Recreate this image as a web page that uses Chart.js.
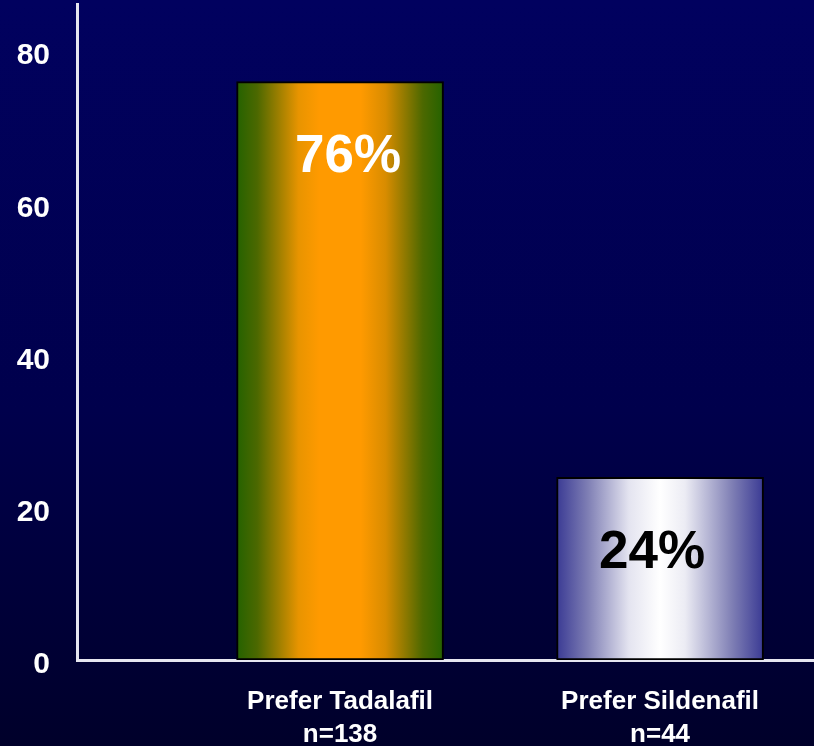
<!DOCTYPE html>
<html>
<head>
<meta charset="utf-8">
<title>Preference</title>
<script src="https://cdn.jsdelivr.net/npm/chart.js@4.4.1/dist/chart.umd.min.js"></script>
<style>
  html, body { margin: 0; padding: 0; }
  body { width: 814px; height: 746px; overflow: hidden;
         background: linear-gradient(to bottom, #01015f 0%, #00004c 55%, #00002a 100%); }
  #wrap { position: relative; width: 814px; height: 746px; }
</style>
</head>
<body>
<div id="wrap"><canvas id="prefChart"></canvas></div>
<script>
// --- data ---
const categories = ['Prefer Tadalafil', 'Prefer Sildenafil'];
const sampleSizes = ['n=138', 'n=44'];
const preference = [76, 24];
const yTickValues = [0, 20, 40, 60, 80];
const labelColors = ['#ffffff', '#000000'];

const FONT = 'Arial, "Liberation Sans", sans-serif';
const BAR_W = 207;

// horizontal gradient per bar (edges dark, middle bright)
const barStops = [
  [[0, '#246200'], [0.1, '#4c6800'], [0.3, '#e89400'], [0.4, '#ff9a00'], [0.6, '#ff9a00'], [0.72, '#d88c00'], [0.9, '#4c6800'], [1, '#246200']],
  [[0, '#3a3a94'], [0.15, '#7e7eb4'], [0.35, '#e4e4f0'], [0.5, '#ffffff'], [0.62, '#ececf4'], [0.85, '#7e7eb4'], [1, '#3a3a94']]
];

function barFill(ctx) {
  const chart = ctx.chart;
  if (!chart.chartArea || ctx.dataIndex === undefined) return '#888';
  const cx = chart.scales.x.getPixelForValue(ctx.dataIndex + 1);
  const g = chart.ctx.createLinearGradient(cx - BAR_W / 2, 0, cx + BAR_W / 2, 0);
  barStops[ctx.dataIndex].forEach(s => g.addColorStop(s[0], s[1]));
  return g;
}

// big percentage text inside each bar
const valueLabels = {
  id: 'valueLabels',
  afterDatasetsDraw(chart) {
    const ctx = chart.ctx;
    chart.getDatasetMeta(0).data.forEach((bar, i) => {
      ctx.save();
      ctx.font = 'bold 53px ' + FONT;
      ctx.fillStyle = labelColors[i];
      ctx.textAlign = 'center';
      ctx.textBaseline = 'middle';
      const nudge = i === 0 ? 8 : -8;
      ctx.fillText(preference[i] + '%', bar.x + nudge, bar.y + 76);
      ctx.restore();
    });
  }
};

new Chart(document.getElementById('prefChart'), {
  type: 'bar',
  data: {
    datasets: [{
      data: preference.map((v, i) => ({ x: i + 1, y: v })),
      backgroundColor: barFill,
      borderColor: '#000000',
      borderWidth: 2,
      borderSkipped: false,
      barThickness: BAR_W
    }]
  },
  options: {
    responsive: true,
    maintainAspectRatio: false,
    animation: false,
    layout: { padding: { top: 4, right: 0, left: 0, bottom: 0 } },
    plugins: { legend: { display: false }, tooltip: { enabled: false } },
    scales: {
      x: {
        type: 'linear',
        offset: false,
        min: 0.178,
        max: 2.481,
        grid: { display: false, drawTicks: false, offset: false },
        border: { display: true, color: '#e6e6f0', width: 3 },
        afterBuildTicks: s => { s.ticks = categories.map((_, i) => ({ value: i + 1 })); },
        afterFit: s => { s.height = 86; s.paddingLeft = 0; s.paddingRight = 0; },
        ticks: {
          color: '#ffffff',
          padding: 26,
          autoSkip: false,
          maxRotation: 0,
          font: { family: FONT, size: 26, weight: 'bold', lineHeight: 1.25 },
          callback: v => [categories[v - 1], sampleSizes[v - 1]]
        }
      },
      y: {
        min: 0,
        max: 86.2,
        grid: { display: false, drawTicks: false },
        border: { display: true, color: '#e6e6f0', width: 3 },
        afterBuildTicks: s => { s.ticks = yTickValues.map(v => ({ value: v })); },
        afterFit: s => { s.width = 77; s.paddingTop = 0; s.paddingBottom = 0; },
        ticks: {
          color: '#ffffff',
          padding: 27,
          labelOffset: 5,
          font: { family: FONT, size: 30, weight: 'bold' }
        }
      }
    }
  },
  plugins: [valueLabels]
});
</script>
</body>
</html>
